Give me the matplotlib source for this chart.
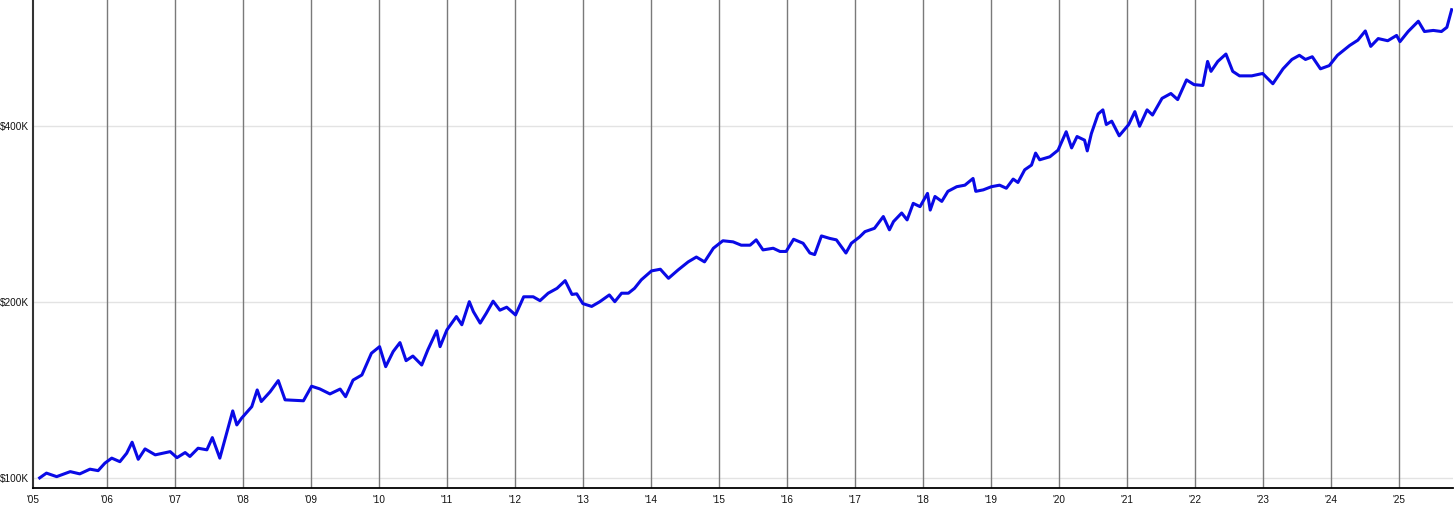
import matplotlib
matplotlib.use("Agg")
import matplotlib.pyplot as plt
from matplotlib.ticker import FixedLocator, FixedFormatter, NullLocator

# ---- data (decimal year, portfolio value in $K) ----
years = [
    2005.01, 2005.11, 2005.26, 2005.46, 2005.60, 2005.75, 2005.87, 2005.97,
    2006.07, 2006.19, 2006.29, 2006.37, 2006.46, 2006.56, 2006.71, 2006.93,
    2007.03, 2007.15, 2007.22, 2007.34, 2007.47, 2007.55, 2007.66, 2007.76,
    2007.85, 2007.91, 2007.98, 2008.13, 2008.21, 2008.27, 2008.40, 2008.52,
    2008.62, 2008.89, 2009.01, 2009.13, 2009.28, 2009.43, 2009.51, 2009.62,
    2009.75, 2009.89, 2010.01, 2010.10, 2010.21, 2010.31, 2010.40, 2010.50,
    2010.63, 2010.72, 2010.85, 2010.90, 2011.00, 2011.14, 2011.22, 2011.33,
    2011.39, 2011.49, 2011.58, 2011.68, 2011.78, 2011.88, 2012.01, 2012.13,
    2012.27, 2012.37, 2012.49, 2012.62, 2012.74, 2012.84, 2012.91, 2013.00,
    2013.13, 2013.25, 2013.39, 2013.47, 2013.57, 2013.67, 2013.76, 2013.86,
    2014.01, 2014.14, 2014.26, 2014.40, 2014.55, 2014.67, 2014.79, 2014.92,
    2015.06, 2015.21, 2015.33, 2015.46, 2015.55, 2015.65, 2015.80, 2015.90,
    2015.99, 2016.10, 2016.24, 2016.34, 2016.41, 2016.51, 2016.63, 2016.73,
    2016.87, 2016.95, 2017.07, 2017.15, 2017.29, 2017.42, 2017.51, 2017.57,
    2017.69, 2017.77, 2017.86, 2017.96, 2018.07, 2018.11, 2018.18, 2018.28,
    2018.37, 2018.50, 2018.62, 2018.74, 2018.78, 2018.89, 2019.01, 2019.13,
    2019.23, 2019.33, 2019.40, 2019.50, 2019.60, 2019.66, 2019.72, 2019.87,
    2019.99, 2020.11, 2020.19, 2020.27, 2020.38, 2020.42, 2020.48, 2020.58,
    2020.65, 2020.70, 2020.78, 2020.89, 2021.03, 2021.12, 2021.19, 2021.30,
    2021.38, 2021.52, 2021.65, 2021.75, 2021.88, 2021.99, 2022.12, 2022.19,
    2022.24, 2022.34, 2022.46, 2022.56, 2022.66, 2022.84, 2023.00, 2023.15,
    2023.30, 2023.43, 2023.54, 2023.63, 2023.73, 2023.85, 2023.98, 2024.10,
    2024.28, 2024.40, 2024.51, 2024.59, 2024.70, 2024.84, 2024.97, 2025.02,
    2025.14, 2025.29, 2025.38, 2025.51, 2025.63, 2025.71, 2025.78,
]
value_k = [
    100.0, 101.9, 100.5, 102.5, 101.6, 103.5, 102.9, 106.0,
    108.1, 106.6, 110.2, 115.1, 107.6, 112.1, 109.5, 110.9,
    108.3, 110.5, 108.8, 112.4, 111.7, 117.2, 108.1, 119.3,
    130.2, 123.2, 126.5, 132.4, 141.4, 135.1, 140.4, 146.7,
    136.0, 135.5, 143.5, 142.0, 139.2, 141.9, 137.7, 147.0,
    150.0, 163.4, 167.7, 155.0, 164.5, 170.4, 158.7, 161.6,
    156.0, 165.6, 178.5, 167.7, 179.1, 188.8, 182.8, 200.2,
    192.5, 184.0, 191.3, 200.6, 193.6, 195.9, 190.0, 204.1,
    204.1, 201.0, 207.0, 211.0, 217.5, 206.0, 206.5, 198.7,
    196.5, 200.2, 205.6, 200.2, 207.0, 207.0, 211.0, 218.2,
    226.0, 227.5, 219.5, 226.8, 234.2, 238.7, 234.2, 247.1,
    254.5, 253.4, 250.1, 250.1, 255.4, 245.5, 247.1, 244.0,
    244.0, 256.0, 252.0, 242.5, 241.0, 259.4, 256.9, 255.4,
    242.5, 252.0, 258.3, 263.8, 267.3, 280.0, 265.7, 274.5,
    283.9, 276.3, 294.9, 291.1, 306.7, 287.2, 303.0, 297.2,
    309.2, 314.9, 316.8, 325.3, 309.2, 311.0, 314.9, 316.8,
    313.0, 324.5, 320.2, 336.6, 342.9, 359.5, 350.1, 354.3,
    363.6, 391.0, 366.9, 383.7, 378.3, 362.6, 388.1, 419.4,
    426.2, 402.3, 407.6, 384.8, 402.3, 423.2, 399.6, 426.2,
    417.6, 446.0, 454.6, 443.8, 479.6, 470.8, 469.2, 515.8,
    496.0, 515.8, 531.0, 496.0, 487.3, 487.3, 491.9, 472.4,
    501.0, 519.8, 528.4, 519.8, 525.4, 501.0, 507.4, 528.4,
    549.3, 560.8, 581.6, 547.3, 564.4, 559.6, 571.4, 557.6,
    580.3, 604.3, 580.3, 582.8, 580.3, 590.0, 632.3,
]

year_ticks = list(range(2006, 2026))
year_labels = ["'%02d" % (y % 100) for y in range(2005, 2026)]
y_ticks_k = [100, 200, 400]
y_labels = ["$100K", "$200K", "$400K"]

X_MIN, X_MAX = 2004.912, 2025.80
Y_MIN, Y_MAX = 96.1, 657.0

plt.rcParams['font.family'] = ['Liberation Sans', 'DejaVu Sans']

fig = plt.figure(figsize=(14.56, 5.08), dpi=100)
ax = fig.add_axes([33 / 1456, 20 / 508, (1453 - 33) / 1456, 488 / 508])

ax.set_yscale('log')
ax.set_xlim(X_MIN, X_MAX)
ax.set_ylim(Y_MIN, Y_MAX)

# vertical year grid lines
for yr in year_ticks:
    ax.axvline(yr, color='#7a7a7a', lw=1.0, zorder=1)
# horizontal grid lines
for v in y_ticks_k:
    ax.axhline(v, color='#e3e3e3', lw=1.0, zorder=0)

ax.plot(years, value_k, color='#0a0ae6', lw=2.2, zorder=3, solid_joinstyle='round')

ax.xaxis.set_major_locator(FixedLocator([X_MIN] + year_ticks))
ax.xaxis.set_major_formatter(FixedFormatter(year_labels))
ax.xaxis.set_minor_locator(NullLocator())
ax.yaxis.set_major_locator(FixedLocator(y_ticks_k))
ax.yaxis.set_major_formatter(FixedFormatter(y_labels))
ax.yaxis.set_minor_locator(NullLocator())

ax.tick_params(axis='both', length=0, labelsize=7.2, colors='#111111')
ax.tick_params(axis='x', pad=5)
ax.tick_params(axis='y', pad=3)

ax.spines['top'].set_visible(False)
ax.spines['right'].set_visible(False)
ax.spines['left'].set_color('#333333')
ax.spines['left'].set_linewidth(1.5)
ax.spines['bottom'].set_color('#000000')
ax.spines['bottom'].set_linewidth(1.3)

fig.savefig('out.png', dpi=100, facecolor='white')
